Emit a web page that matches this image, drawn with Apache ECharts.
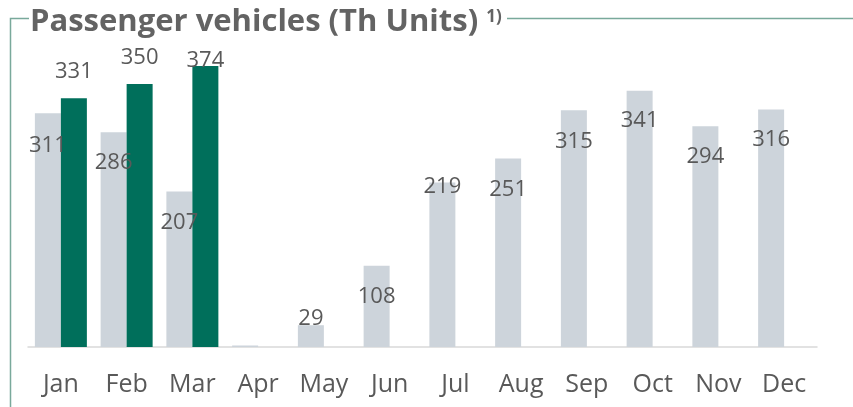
<!DOCTYPE html>
<html>
<head>
<meta charset="utf-8">
<script src="https://cdn.jsdelivr.net/npm/echarts@6/dist/echarts.min.js"></script>
<style>
  html, body { margin: 0; padding: 0; background: #fff; }
  #chart { width: 853px; height: 407px; }
</style>
</head>
<body>
<div id="chart"></div>
<script>
var months = ['Jan', 'Feb', 'Mar', 'Apr', 'May', 'Jun', 'Jul', 'Aug', 'Sep', 'Oct', 'Nov', 'Dec'];
var units2020 = [311, 286, 207, 2, 29, 108, 219, 251, 315, 341, 294, 316];
var units2021 = [331, 350, 374, null, null, null, null, null, null, null, null, null];

// label centre relative to bar top (px), as placed in the original slide
var grayShift = [32, 31, 31, 0, -6, 31, 4, 31, 31, 30, 31, 30];
var greenShift = [-27, -26, -5];

var myChart = echarts.init(document.getElementById('chart'));
var font = '"Open Sans", Lato, sans-serif';

var grayData = units2020.map(function(v, i) {
  return {
    value: v,
    label: { show: i !== 3, offset: [0, grayShift[i]] }
  };
});
var greenData = units2021.map(function(v, i) {
  return {
    value: v,
    label: { offset: [0, greenShift[i] || 0] }
  };
});

var barLabel = {
  show: true,
  position: 'top',
  distance: 0,
  verticalAlign: 'middle',
  color: '#595959',
  fontFamily: font,
  fontSize: 22
};

option = {
  backgroundColor: '#fff',
  animation: false,
  title: {
    text: 'Passenger vehicles (Th Units) {sup|1)}',
    left: 30,
    top: 7,
    padding: 0,
    textStyle: {
      color: '#636363',
      fontFamily: font,
      fontWeight: 'bold',
      fontSize: 31,
      rich: {
        sup: {
          color: '#636363',
          fontFamily: font,
          fontWeight: 'bold',
          fontSize: 17,
          verticalAlign: 'top',
          padding: [2, 0, 0, 0]
        }
      }
    }
  },
  graphic: [{
    type: 'polyline',
    shape: { points: [[29, 18.5], [10.5, 18.5], [10.5, 407]] },
    style: { stroke: '#79a99b', lineWidth: 1.5, fill: null }
  }, {
    type: 'line',
    shape: { x1: 507, y1: 18.5, x2: 853, y2: 18.5 },
    style: { stroke: '#79a99b', lineWidth: 1.5 }
  }],
  grid: { left: 28, right: 36, top: 46.5, bottom: 60 },
  xAxis: {
    type: 'category',
    data: months,
    axisLine: { lineStyle: { color: '#d9d9d9', width: 1.5 } },
    axisTick: { show: false },
    axisLabel: {
      color: '#595959',
      fontFamily: font,
      fontSize: 25,
      margin: 25
    }
  },
  yAxis: {
    type: 'value',
    min: 0,
    max: 400,
    show: false,
    splitLine: { show: false }
  },
  series: [{
    name: '2020',
    type: 'bar',
    data: grayData,
    barWidth: 26,
    barGap: '0%',
    itemStyle: { color: '#cdd4db' },
    label: barLabel
  }, {
    name: '2021',
    type: 'bar',
    data: greenData,
    barWidth: 26,
    itemStyle: { color: '#006f5b' },
    label: barLabel
  }]
};
myChart.setOption(option);
</script>
</body>
</html>
